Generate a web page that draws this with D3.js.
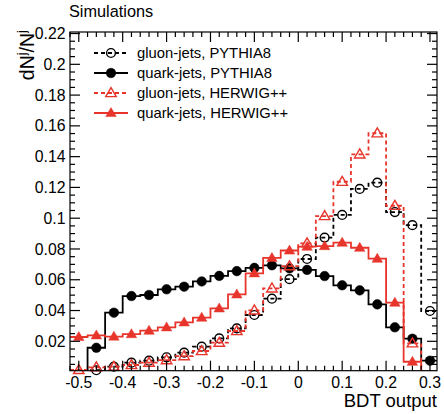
<!DOCTYPE html>
<html>
<head>
<meta charset="utf-8">
<script src="https://cdn.jsdelivr.net/npm/d3@7"></script>
<style>
  body { margin: 0; background: #fff; }
  svg { display: block; font-family: "Liberation Sans", Arial, sans-serif; }
</style>
</head>
<body>
<svg id="chart" width="444" height="414"></svg>
<script>
// bin centres of the BDT output histograms (width 0.04)
const binCenters = [-0.50, -0.46, -0.42, -0.38, -0.34, -0.30, -0.26, -0.22, -0.18, -0.14, -0.10,
                    -0.06, -0.02, 0.02, 0.06, 0.10, 0.14, 0.18, 0.22, 0.26, 0.30];
const binWidth = 0.04;

const gluonPythia = [0.0005, 0.0012, 0.0035, 0.0061, 0.0074, 0.0096, 0.0126, 0.0165, 0.0219, 0.0284, 0.0371,
                     0.0477, 0.0604, 0.0735, 0.0874, 0.1021, 0.1190, 0.1231, 0.1040, 0.0955, 0.0397];
const quarkPythia = [0.0000, 0.0158, 0.0386, 0.0494, 0.0501, 0.0538, 0.0555, 0.0589, 0.0625, 0.0656, 0.0677,
                     0.0694, 0.0674, 0.0664, 0.0624, 0.0564, 0.0531, 0.0440, 0.0291, 0.0217, 0.0074];
const gluonHerwig = [0.0014, 0.0031, 0.0035, 0.0046, 0.0061, 0.0078, 0.0104, 0.0137, 0.0191, 0.0267, 0.0401,
                     0.0544, 0.0688, 0.0837, 0.1014, 0.1237, 0.1415, 0.1552, 0.1081, 0.0187, 0.0003];
const quarkHerwig = [0.0228, 0.0239, 0.0231, 0.0247, 0.0269, 0.0291, 0.0323, 0.0354, 0.0414, 0.0505, 0.0642,
                     0.0742, 0.0790, 0.0815, 0.0819, 0.0841, 0.0808, 0.0737, 0.0451, 0.0067, 0.0003];

const xTicks = [-0.5, -0.4, -0.3, -0.2, -0.1, 0, 0.1, 0.2, 0.3];
const xTickLabels = ["-0.5", "-0.4", "-0.3", "-0.2", "-0.1", "0", "0.1", "0.2", "0.3"];
const yTicks = [0.02, 0.04, 0.06, 0.08, 0.1, 0.12, 0.14, 0.16, 0.18, 0.2, 0.22];
const yTickLabels = ["0.02", "0.04", "0.06", "0.08", "0.1", "0.12", "0.14", "0.16", "0.18", "0.2", "0.22"];

const RED = "#e8352c";
const series = [
  { name: "gluon-jets, PYTHIA8", values: gluonPythia, color: "#000", dash: "4,3", marker: "circle", filled: false },
  { name: "quark-jets, PYTHIA8", values: quarkPythia, color: "#000", dash: null, marker: "circle", filled: true },
  { name: "gluon-jets, HERWIG++", values: gluonHerwig, color: RED, dash: "4,3", marker: "triangle", filled: false },
  { name: "quark-jets, HERWIG++", values: quarkHerwig, color: RED, dash: null, marker: "triangle", filled: true }
];

const svg = d3.select("#chart");
const L = 70, R = 437, T = 32, B = 370.7;

const x = d3.scaleLinear().domain([-0.52, 0.316]).range([L, R]);
const y = d3.scaleLinear().domain([0.0009, 0.221]).range([B, T]);

svg.append("defs").append("clipPath").attr("id", "frame")
  .append("rect").attr("x", L).attr("y", T).attr("width", R - L).attr("height", B - T);

// step outline of a histogram
function stepPath(vals) {
  let d = "";
  vals.forEach((v, i) => {
    const x0 = x(binCenters[i] - binWidth / 2), x1 = x(binCenters[i] + binWidth / 2);
    const yy = y(Math.max(v, 0.0005));
    d += (i === 0 ? "M" : "L") + x0 + "," + yy + "L" + x1 + "," + yy;
  });
  return d;
}

function drawMarker(g, cx, cy, s) {
  if (s.marker === "circle") {
    g.append("circle").attr("cx", cx).attr("cy", cy).attr("r", s.filled ? 4.8 : 4.4)
      .attr("fill", s.filled ? s.color : "none")
      .attr("stroke", s.color).attr("stroke-width", s.filled ? 0.5 : 1.4);
  } else {
    const h = 9, w = 10.5;
    const tri = d3.path();
    tri.moveTo(cx, cy - h * 0.6);
    tri.lineTo(cx + w / 2, cy + h * 0.4);
    tri.lineTo(cx - w / 2, cy + h * 0.4);
    tri.closePath();
    g.append("path").attr("d", tri.toString())
      .attr("fill", s.filled ? s.color : "none")
      .attr("stroke", s.color).attr("stroke-width", s.filled ? 0.5 : 1.4)
      .attr("stroke-linejoin", "miter");
  }
}

const plot = svg.append("g");
series.forEach(s => {
  plot.append("path").attr("d", stepPath(s.values))
    .attr("clip-path", "url(#frame)")
    .attr("fill", "none").attr("stroke", s.color).attr("stroke-width", 1.8)
    .attr("stroke-dasharray", s.dash);
  const mg = plot.append("g");
  s.values.forEach((v, i) => {
    if (v < y.domain()[0]) return;
    drawMarker(mg, x(binCenters[i]), y(v), s);
  });
});

// frame and ticks (ticks inside, on all four sides)
const axes = svg.append("g").attr("stroke", "#000").attr("stroke-width", 1.2);
axes.append("rect").attr("x", L).attr("y", T).attr("width", R - L).attr("height", B - T).attr("fill", "none");

const xMinor = d3.range(-0.52, 0.3161, 0.02).filter(v => Math.abs(Math.round(v * 10) - v * 10) > 1e-6);
const yMinor = d3.range(0.005, 0.221, 0.005).filter(v => Math.abs(Math.round(v * 50) - v * 50) > 1e-6);

xTicks.forEach(v => {
  axes.append("line").attr("x1", x(v)).attr("x2", x(v)).attr("y1", B).attr("y2", B - 10);
  axes.append("line").attr("x1", x(v)).attr("x2", x(v)).attr("y1", T).attr("y2", T + 10);
});
xMinor.forEach(v => {
  axes.append("line").attr("x1", x(v)).attr("x2", x(v)).attr("y1", B).attr("y2", B - 5);
  axes.append("line").attr("x1", x(v)).attr("x2", x(v)).attr("y1", T).attr("y2", T + 5);
});
yTicks.forEach(v => {
  axes.append("line").attr("x1", L).attr("x2", L + 10).attr("y1", y(v)).attr("y2", y(v));
  axes.append("line").attr("x1", R).attr("x2", R - 10).attr("y1", y(v)).attr("y2", y(v));
});
yMinor.forEach(v => {
  axes.append("line").attr("x1", L).attr("x2", L + 5).attr("y1", y(v)).attr("y2", y(v));
  axes.append("line").attr("x1", R).attr("x2", R - 5).attr("y1", y(v)).attr("y2", y(v));
});

// tick labels
svg.append("g").selectAll("text").data(xTicks).join("text")
  .attr("x", d => x(d)).attr("y", 387.5).attr("text-anchor", "middle")
  .attr("font-size", 15.8).text((d, i) => xTickLabels[i]);
svg.append("g").selectAll("text").data(yTicks).join("text")
  .attr("x", 65.5).attr("y", d => y(d) + 5.6).attr("text-anchor", "end")
  .attr("font-size", 15.8).text((d, i) => yTickLabels[i]);

// axis titles
svg.append("text").attr("x", 437).attr("y", 407).attr("text-anchor", "end")
  .attr("font-size", 18.5).text("BDT output");
const yt = svg.append("text").attr("transform", "translate(34,30) rotate(-90)")
  .attr("text-anchor", "end").attr("font-size", 19.5);
yt.append("tspan").text("dN");
yt.append("tspan").attr("font-size", 13).attr("dy", -8).text("j");
yt.append("tspan").attr("dy", 8).text("/N");
yt.append("tspan").attr("font-size", 13).attr("dy", -8).text("j");

svg.append("text").attr("x", 69).attr("y", 17).attr("font-size", 16.3).text("Simulations");

// legend
const leg = svg.append("g");
series.forEach((s, i) => {
  const ly = 53 + i * 20;
  leg.append("line").attr("x1", 94).attr("x2", 128).attr("y1", ly).attr("y2", ly)
    .attr("stroke", s.color).attr("stroke-width", 1.8).attr("stroke-dasharray", s.dash);
  drawMarker(leg, 111, ly, s);
  leg.append("text").attr("x", 137).attr("y", ly + 5.3).attr("font-size", 14.8).text(s.name);
});
</script>
</body>
</html>
